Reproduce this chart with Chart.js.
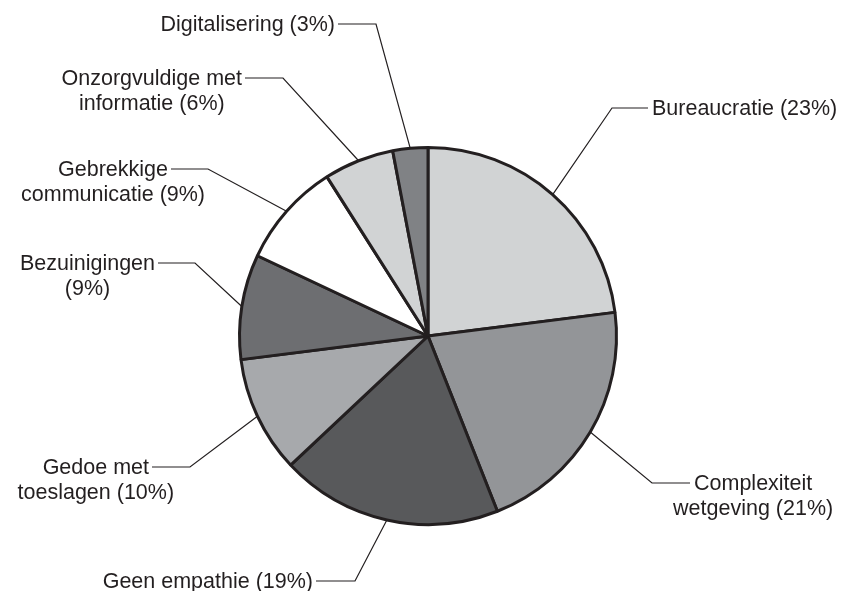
<!DOCTYPE html>
<html>
<head>
<meta charset="utf-8">
<script src="https://cdn.jsdelivr.net/npm/chart.js@4.4.1/dist/chart.umd.min.js"></script>
<style>
  html, body { margin: 0; padding: 0; background: #fff; }
  canvas { display: block; }
</style>
</head>
<body>
<canvas id="pie" width="851" height="591"></canvas>
<script>
// slices clockwise from 12 o'clock
const categories = [
  'Bureaucratie',
  'Complexiteit wetgeving',
  'Geen empathie',
  'Gedoe met toeslagen',
  'Bezuinigingen',
  'Gebrekkige communicatie',
  'Onzorgvuldige met informatie',
  'Digitalisering',
];
const values = [23, 21, 19, 10, 9, 9, 6, 3];

const SLICE_COLORS = ['#d1d3d4', '#939598', '#58595b', '#a7a9ac', '#6d6e71', '#ffffff', '#d1d3d4', '#808285'];
const INK = '#231f20';
const FONT = '21.5px "Liberation Sans", Arial, sans-serif';
const LINE_GAP = 25;

// where each callout bends, where its horizontal stub stops, which side the text sits, words on line 1
const callouts = [
  { elbow: [612, 108], end: 648, side: 'right', words: 99 },
  { elbow: [652, 483], end: 690, side: 'right', words: 1 },
  { elbow: [355, 581], end: 316, side: 'left', words: 99 },
  { elbow: [190, 467], end: 152, side: 'left', words: 2 },
  { elbow: [195, 263], end: 158, side: 'left', words: 1 },
  { elbow: [208, 169], end: 171, side: 'left', words: 1 },
  { elbow: [283, 78], end: 245, side: 'left', words: 2 },
  { elbow: [376, 24], end: 338, side: 'left', words: 99 },
];

const calloutPlugin = {
  id: 'callouts',
  afterDraw(chart) {
    const ctx = chart.ctx;
    const arcs = chart.getDatasetMeta(0).data;
    ctx.save();
    ctx.font = FONT;
    ctx.fillStyle = INK;
    ctx.strokeStyle = INK;
    ctx.lineWidth = 1.2;
    ctx.textBaseline = 'middle';
    ctx.textAlign = 'center';
    arcs.forEach((arc, i) => {
      const c = callouts[i];
      const p = arc.getProps(['x', 'y', 'startAngle', 'endAngle', 'outerRadius'], true);
      const mid = (p.startAngle + p.endAngle) / 2;
      const ax = p.x + Math.cos(mid) * p.outerRadius;
      const ay = p.y + Math.sin(mid) * p.outerRadius;

      ctx.beginPath();
      ctx.moveTo(ax, ay);
      ctx.lineTo(c.elbow[0], c.elbow[1]);
      ctx.lineTo(c.end, c.elbow[1]);
      ctx.stroke();

      const words = (categories[i] + ' (' + values[i] + '%)').split(' ');
      const lines = [words.slice(0, c.words).join(' ')];
      if (c.words < words.length) lines.push(words.slice(c.words).join(' '));
      const w1 = ctx.measureText(lines[0]).width;
      const cx = c.side === 'right' ? c.end + 4 + w1 / 2 : c.end - 3 - w1 / 2;
      lines.forEach((t, k) => ctx.fillText(t, cx, c.elbow[1] + 1 + k * LINE_GAP));
    });
    ctx.restore();
  },
};

new Chart(document.getElementById('pie'), {
  type: 'pie',
  data: {
    labels: categories,
    datasets: [{
      data: values,
      backgroundColor: SLICE_COLORS,
      borderColor: INK,
      borderWidth: 3,
    }],
  },
  options: {
    responsive: false,
    animation: false,
    layout: { padding: { top: 146, bottom: 65, left: 238, right: 233 } },
    plugins: { legend: { display: false }, tooltip: { enabled: false } },
  },
  plugins: [calloutPlugin],
});
</script>
</body>
</html>
